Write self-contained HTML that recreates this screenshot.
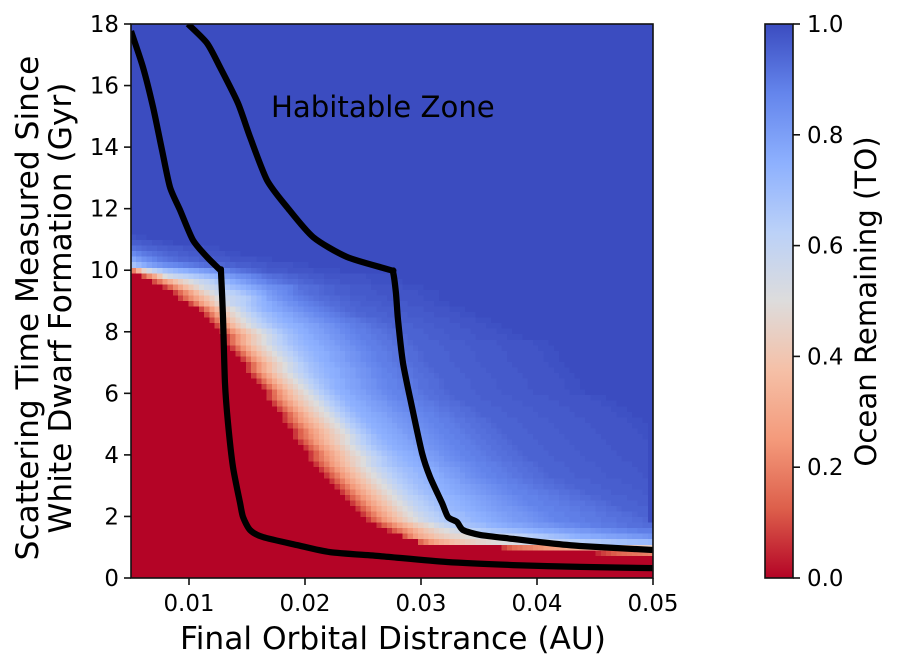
<!DOCTYPE html>
<html>
<head>
<meta charset="utf-8">
<title>Ocean Remaining Heatmap</title>
<style>
html,body{margin:0;padding:0;background:#fff;width:898px;height:669px;overflow:hidden}
svg{display:block}
text{font-family:"DejaVu Sans","Liberation Sans",sans-serif;fill:#000}
</style>
</head>
<body>
<svg id="chart" xmlns="http://www.w3.org/2000/svg" width="898" height="669" viewBox="0 0 898 669">
  <defs>
    <clipPath id="plot-clip"><rect x="131" y="24" width="522" height="554"/></clipPath>
    <linearGradient id="cbar-gradient" x1="0" y1="1" x2="0" y2="0"></linearGradient>
  </defs>
  <g id="cells" shape-rendering="crispEdges"></g>
  <g id="lines" clip-path="url(#plot-clip)"></g>
  <rect x="131" y="24" width="522" height="554" fill="none" stroke="#111" stroke-width="1.6"/>
  <g id="axis-ticks"></g>
  <text x="271" y="117" font-size="29.17">Habitable Zone</text>
  <text x="393" y="649" font-size="31.25" text-anchor="middle">Final Orbital Distrance (AU)</text>
  <text transform="translate(38,308) rotate(-90)" font-size="31.25" text-anchor="middle">Scattering Time Measured Since</text>
  <text transform="translate(71,308) rotate(-90)" font-size="31.25" text-anchor="middle">White Dwarf Formation (Gyr)</text>
  <rect x="765" y="24" width="28" height="554" fill="url(#cbar-gradient)" stroke="#111" stroke-width="1.6"/>
  <g id="cbar-ticks"></g>
  <text transform="translate(876,301.5) rotate(-90)" font-size="29.17" text-anchor="middle">Ocean Remaining (TO)</text>
</svg>
<script>
// Axis tick values
const xTicks = [0.01, 0.02, 0.03, 0.04, 0.05];
const xTickLabels = ["0.01", "0.02", "0.03", "0.04", "0.05"];
const yTicks = [0, 2, 4, 6, 8, 10, 12, 14, 16, 18];
const cbarTicks = [0, 0.2, 0.4, 0.6, 0.8, 1];
const cbarTickLabels = ["0.0", "0.2", "0.4", "0.6", "0.8", "1.0"];

// Inner boundary curve
const innerDistance = [0.005,0.00603,0.0069,0.00767,0.00836,0.00922,0.01034,0.01155,0.01267,0.01276,0.01293,0.0131,0.01336,0.01379,0.0144,0.01466,0.01526,0.01638,0.01931,0.02216,0.02647,0.03224,0.03793,0.0437,0.05];
const innerTime = [17.77,16.6,15.3,13.91,12.7,11.96,10.98,10.43,10.01,9.94,8.48,6.34,5.04,3.61,2.44,1.98,1.56,1.33,1.07,0.84,0.71,0.52,0.42,0.36,0.32];

// Outer boundary curve
const outerDistance = [0.00991,0.01155,0.01267,0.01422,0.01526,0.01672,0.01845,0.02069,0.02362,0.02733,0.02759,0.02784,0.02802,0.02845,0.02922,0.03009,0.03078,0.03181,0.03233,0.0331,0.03362,0.03509,0.03793,0.04086,0.0437,0.05];
const outerTime = [18,17.38,16.6,15.43,14.33,12.93,12.05,11.08,10.43,10.01,9.94,9.26,8.38,6.98,5.56,4.06,3.28,2.44,1.98,1.82,1.56,1.4,1.27,1.14,1.04,0.91];

// Heatmap extent and grid size
const gridCols = 100;
const xMin = 0.005, xMax = 0.05, yMin = 0, yMax = 18;

// Heatmap rows listed from the top (18 Gyr) down.
// Each row: [number of leading fully-depleted cells, then ocean remaining in percent...];
// cells beyond the listed ones hold 100 percent.
const heatmapRows = [
[0],[0],[0],[0],[0],[0],[0],[0],[0],[0],[0],[0],[0],[0],[0],[0],[0],[0],[0],
[0],[0],[0],[0],[0],[0],[0],[0],[0],[0],[0],[0],[0],[0],[0],[0],[0],[0],[0],
[0,98,99,99],
[0,96,96,97,97,98,98,99,99],
[0,92,93,94,95,95,96,96,97,97,97,98,98,98,98,99,99,99],
[0,86,88,90,91,92,93,94,95,95,96,96,97,97,97,98,98,98,98,99,99,99],
[0,78,81,84,86,88,90,91,92,93,94,94,95,95,96,96,96,97,97,97,98,98,98,98,98,99,99,99],
[0,68,72,76,79,81,83,85,86,87,88,89,90,91,92,93,93,94,94,95,95,96,96,96,97,97,97,98,98,98,98,98,99,99,99],
[0,20,34,46,54,60,64,68,70,72,74,75,77,78,80,81,83,84,86,88,90,91,92,93,94,95,96,97,97,97,97,98,98,98,98,98,99,99,99,99,99],
[2,12,22,30,40,50,55,58,60,62,64,66,68,70,72,74,77,80,82,84,85,86,88,89,91,92,93,93,94,95,95,96,96,97,97,97,98,98,98,98,98,98,98,98,99,99,99,99,99],
[4,10,17,25,32,38,43,47,51,55,58,60,63,66,69,73,76,78,80,82,84,86,87,89,90,91,92,93,93,94,95,95,96,96,97,97,97,98,98,98,98,98,98,99,99,99,99,99,99],
[6,7,14,22,29,36,41,46,51,55,57,60,63,67,70,72,74,76,78,80,82,84,85,86,87,88,90,92,92,93,93,94,95,95,96,96,96,97,97,97,97,98,98,98,98,98,98,99,99,99,99],
[8,8,15,22,29,36,42,47,52,56,59,61,63,65,68,71,73,76,78,81,83,85,86,88,90,91,92,93,93,94,95,95,96,96,96,97,97,97,97,97,98,98,98,98,98,98,98,98,99,99,99,99],
[9,8,15,22,28,34,39,44,49,54,57,59,61,63,65,69,72,75,79,81,83,85,86,88,89,90,91,92,93,93,94,94,95,95,96,96,96,97,97,97,97,98,98,98,98,98,98,98,99,99,99],
[11,9,18,26,33,39,45,50,55,59,61,63,66,69,72,74,76,78,80,82,84,85,87,88,89,90,91,92,93,93,94,94,95,95,96,96,96,96,97,97,97,97,97,98,98,98,98,98,99,99,99],
[13,9,18,27,35,41,46,50,55,60,64,67,70,73,75,77,78,80,81,83,84,86,87,88,89,90,91,92,93,94,94,95,95,95,95,96,96,96,96,97,97,97,97,97,98,98,98,98,98,99,99,99],
[14,9,18,27,35,41,46,50,55,59,63,66,69,71,73,75,77,78,80,81,83,84,86,87,88,89,90,91,92,93,94,94,95,95,95,95,96,96,96,96,97,97,97,97,97,98,98,98,98,98,99,99,99],
[15,9,18,27,35,41,46,50,55,59,63,66,69,71,73,75,76,78,79,80,82,83,84,86,87,88,89,90,90,91,92,93,93,94,95,95,95,95,96,96,96,96,97,97,97,97,97,98,98,98,98,98,99,99,99],
[16,9,18,27,35,41,46,50,55,59,62,65,68,70,72,74,75,76,78,79,80,82,83,84,86,87,88,89,90,90,91,92,93,93,94,95,95,95,95,96,96,96,96,97,97,97,97,97,98,98,98,98,98,99,99,99],
[17,8,16,24,31,37,42,46,50,55,59,63,66,69,71,73,75,76,78,79,80,82,83,84,86,87,88,89,89,90,91,91,92,93,93,94,95,95,95,95,96,96,96,96,97,97,97,97,97,98,98,98,98,98,99,99,99],
[18,8,16,24,31,37,42,46,50,55,59,63,66,69,71,73,75,76,78,79,80,82,83,84,86,87,88,89,89,90,91,91,92,93,93,94,95,95,95,95,96,96,96,96,97,97,97,97,97,98,98,98,98,98,98,99,99,99],
[18,8,16,24,31,37,42,46,50,55,59,62,65,68,70,72,74,75,76,78,79,80,82,83,84,86,87,88,89,89,90,91,91,92,93,93,94,95,95,95,95,95,96,96,96,96,96,97,97,97,97,97,97,98,98,98,98,98,98,98,99,99,99],
[19,8,16,24,31,37,42,46,50,55,59,62,65,68,70,72,74,75,76,78,79,80,82,83,84,86,87,88,89,89,90,91,91,92,93,93,94,95,95,95,95,95,96,96,96,96,96,97,97,97,97,97,97,98,98,98,98,98,98,98,99,99,99],
[20,8,16,24,31,37,42,46,50,55,59,62,65,68,70,72,74,75,76,78,79,80,82,83,84,86,87,88,89,89,90,91,91,92,93,93,94,95,95,95,95,95,96,96,96,96,96,97,97,97,97,97,97,98,98,98,98,98,98,98,99,99,99],
[21,8,16,24,31,37,42,46,50,55,59,63,66,69,71,73,75,76,78,79,80,82,83,84,86,87,88,89,89,90,91,91,92,93,93,94,95,95,95,95,95,96,96,96,96,96,97,97,97,97,97,97,98,98,98,98,98,98,98,99,99,99],
[22,8,16,24,31,37,42,46,50,55,59,63,66,69,71,73,75,76,78,79,80,82,83,84,86,87,88,89,89,90,91,91,92,93,93,94,95,95,95,95,95,96,96,96,96,96,97,97,97,97,97,97,98,98,98,98,98,98,98,99,99,99],
[22,8,16,24,31,37,42,46,50,55,59,62,65,68,70,72,74,75,76,78,79,80,82,83,84,86,87,88,89,89,90,91,91,92,93,93,94,95,95,95,95,95,96,96,96,96,96,97,97,97,97,97,97,98,98,98,98,98,98,98,99,99,99],
[23,8,16,24,31,37,42,46,50,55,59,63,66,69,71,73,75,76,78,79,80,82,83,84,86,87,88,88,89,90,90,91,92,92,93,93,94,95,95,95,95,95,96,96,96,96,96,97,97,97,97,97,97,98,98,98,98,98,98,98,99,99,99],
[24,8,16,24,31,37,42,46,50,55,59,63,66,69,71,73,75,76,78,79,80,82,83,84,86,87,88,88,89,90,90,91,92,92,93,93,94,95,95,95,95,95,96,96,96,96,96,97,97,97,97,97,97,98,98,98,98,98,98,98,99,99,99],
[25,8,16,24,31,37,42,46,50,55,60,64,67,70,73,75,76,78,79,80,82,83,84,86,87,88,88,89,90,90,91,92,92,93,93,94,95,95,95,95,95,96,96,96,96,96,97,97,97,97,97,97,98,98,98,98,98,98,98,99,99,99],
[26,8,16,24,31,37,42,46,50,55,60,64,67,70,73,75,76,78,79,80,82,83,84,86,87,88,88,89,90,90,91,92,92,93,93,94,95,95,95,95,95,96,96,96,96,96,97,97,97,97,97,97,98,98,98,98,98,98,98,99,99,99],
[26,8,15,22,28,34,39,43,47,50,55,60,64,67,70,73,75,76,78,79,80,82,83,84,86,87,88,88,89,90,90,91,92,92,93,93,94,95,95,95,95,95,96,96,96,96,96,96,97,97,97,97,97,97,97,98,98,98,98,98,98,98,98,99,99,99],
[27,8,15,22,28,34,39,43,47,50,55,60,64,67,70,73,75,76,77,79,80,81,82,84,85,86,87,88,88,89,90,90,91,92,92,93,93,94,95,95,95,95,95,96,96,96,96,96,96,97,97,97,97,97,97,97,98,98,98,98,98,98,98,98,99,99,99],
[28,8,15,22,28,34,39,43,47,50,55,60,64,67,70,73,75,76,77,79,80,81,82,84,85,86,87,88,88,89,89,90,91,91,92,92,93,93,94,95,95,95,95,95,96,96,96,96,96,96,97,97,97,97,97,97,97,98,98,98,98,98,98,98,98,99,99,99],
[29,8,15,22,28,34,39,43,47,50,55,60,64,67,70,73,75,76,77,78,79,81,82,83,84,85,86,87,88,88,89,90,90,91,92,92,93,93,94,95,95,95,95,95,96,96,96,96,96,96,97,97,97,97,97,97,97,98,98,98,98,98,98,98,98,99,99,99],
[29,7,13,19,25,30,35,39,43,47,50,55,60,64,67,70,73,75,76,77,78,79,81,82,83,84,85,86,87,88,88,89,89,90,91,91,92,92,93,93,94,95,95,95,95,95,96,96,96,96,96,96,97,97,97,97,97,97,97,98,98,98,98,98,98,98,98,99,99,99],
[30,7,13,19,25,30,35,39,43,47,50,55,60,64,67,70,73,75,76,77,78,79,81,82,83,84,85,86,87,88,88,89,89,90,91,91,92,92,93,93,94,95,95,95,95,95,96,96,96,96,96,96,97,97,97,97,97,97,97,98,98,98,98,98,98,98,98,99,99,99],
[31,7,13,19,25,30,35,39,43,47,50,55,60,64,67,70,73,75,76,77,78,79,81,82,83,84,85,86,87,88,88,89,89,90,91,91,92,92,93,93,94,95,95,95,95,95,96,96,96,96,96,96,97,97,97,97,97,97,97,98,98,98,98,98,98,98,98,99,99],
[31,7,13,18,23,28,33,37,41,44,47,50,55,60,64,67,70,73,75,76,77,78,79,81,82,83,84,85,86,87,88,88,89,89,90,91,91,92,92,93,93,94,95,95,95,95,95,96,96,96,96,96,96,97,97,97,97,97,97,97,98,98,98,98,98,98,98,98,99],
[32,7,13,19,25,30,35,39,43,47,50,55,59,63,66,69,71,73,75,76,77,78,79,81,82,83,84,85,86,87,88,88,89,89,90,91,91,92,92,93,93,94,95,95,95,95,95,96,96,96,96,96,96,97,97,97,97,97,97,97,98,98,98,98,98,98,98,98],
[33,7,13,19,25,30,35,39,43,47,50,55,59,63,66,69,71,73,75,76,77,78,79,81,82,83,84,85,86,87,88,88,89,89,90,91,91,92,92,93,93,94,95,95,95,95,95,96,96,96,96,96,96,97,97,97,97,97,97,97,98,98,98,98,98,98,98],
[34,7,13,19,25,30,35,39,43,47,50,55,59,62,65,68,70,72,74,75,76,77,79,80,81,82,84,85,86,87,88,88,89,89,90,91,91,92,92,93,93,94,95,95,95,95,95,96,96,96,96,96,96,97,97,97,97,97,97,97,98,98,98,98,98,98],
[34,7,13,18,23,28,33,37,41,44,47,50,55,59,62,65,68,70,72,74,75,76,77,79,80,81,82,84,85,86,87,88,88,89,89,90,91,91,92,92,93,93,94,95,95,95,95,95,96,96,96,96,96,96,97,97,97,97,97,97,97,98,98,98,98,98],
[35,7,13,19,25,30,35,39,43,47,50,55,59,62,65,67,69,71,72,74,75,76,77,78,79,81,82,83,84,85,86,87,88,88,89,89,90,91,91,92,92,93,93,94,95,95,95,95,95,96,96,96,96,96,96,97,97,97,97,97,97,97,98,98,98],
[36,7,13,19,25,30,35,39,43,47,50,54,58,61,64,66,68,70,71,73,74,75,76,77,79,80,81,82,84,85,86,87,88,88,89,89,90,91,91,92,92,93,93,94,95,95,95,95,95,96,96,96,96,96,96,97,97,97,97,97,97,97,98,98],
[37,7,13,19,25,30,35,39,43,47,50,54,58,61,64,66,68,70,71,73,74,75,76,77,79,80,81,82,84,85,86,87,88,88,89,89,90,91,91,92,92,93,93,94,95,95,95,95,95,96,96,96,96,96,96,97,97,97,97,97,97,97,98],
[38,7,13,19,25,30,35,39,43,47,50,54,58,61,64,66,68,70,71,73,74,75,76,77,78,79,81,82,83,84,85,86,87,88,88,89,89,90,91,91,92,92,93,93,94,94,95,95,95,95,95,96,96,96,96,96,96,97,97,97,97,97],
[39,7,13,19,25,30,35,39,43,47,50,54,58,61,64,66,68,70,71,73,74,75,76,77,78,79,80,81,82,83,84,85,86,87,88,88,89,89,90,91,91,92,92,93,93,94,94,95,95,95,95,95,96,96,96,96,96,96,97,97,97],
[40,7,13,19,25,30,35,39,43,47,50,54,58,61,64,66,68,70,71,73,74,75,76,77,78,79,80,81,82,83,84,85,86,87,88,88,88,89,89,90,90,91,91,92,92,93,93,94,95,95,95,95,95,96,96,96,96,96,96,97],
[41,7,13,19,25,30,35,39,43,47,50,54,58,61,63,65,67,69,70,72,73,74,75,76,77,78,79,80,81,82,83,84,85,86,87,88,88,88,89,89,90,90,91,91,92,92,93,93,94,94,95,95,95,95,95,96,96,96,96],
[42,7,13,19,25,30,35,39,43,47,50,54,58,61,63,65,67,69,70,72,73,74,75,76,77,78,79,80,81,82,83,84,85,86,87,88,88,88,89,89,89,90,90,91,91,91,92,92,93,93,94,95,95,95,95,95,96,96],
[43,7,13,19,25,30,35,39,43,47,50,54,58,61,63,65,67,69,70,72,73,74,75,76,77,78,79,80,81,82,82,83,84,85,86,87,88,88,88,89,89,89,90,90,91,91,91,92,92,93,93,94,95,95,95,95,95],
[44,7,13,19,25,30,35,39,43,47,50,54,57,60,62,64,66,68,69,70,71,73,74,75,76,77,78,79,80,81,82,82,83,84,85,86,87,88,88,88,89,89,89,90,90,90,91,91,92,92,92,93,93,94,95,95],
[45,7,13,19,25,30,35,39,43,47,50,54,57,60,62,64,66,68,69,70,71,73,74,75,76,77,78,79,80,81,82,82,83,84,85,86,87,88,88,88,89,89,89,90,90,90,91,91,91,92,92,92,93,93,94],
[47,7,13,18,23,28,33,37,41,44,47,50,54,57,60,62,64,66,68,69,70,71,73,74,75,76,77,78,78,79,80,81,82,82,83,84,85,86,86,87,88,88,89,89,90,90,90,91,91,92,92,92,93,93],
[49,6,12,17,22,27,32,36,40,43,46,48,50,53,55,57,59,61,63,65,66,67,68,69,70,71,72,73,74,75,76,77,77,78,79,80,80,81,82,82,83,84,85,85,86,87,87,88,88,89,89,89,90,90],
[52,12,20,26,31,34,37,40,42,44,46,47,48,49,50,52,54,55,56,57,58,59,60,61,62,64,65,66,67,69,70,71,72,74,75,76,76,77,77,78,79,79,80,80,81,82,82,83,84],
[55,14,20,25,29,32,34,37,39,41,43,44,46,47,48,49,50,51,52,52,53,54,55,56,57,58,59,60,61,62,63,63,64,65,65,66,67,67,68,69,69,70,70,71,71,72],
[71,8,12,15,17,19,20,22,23,25,26,27,28,29,30,31,32,33,34,35,36,37,38,39,40,41,42,43,44,45],
[89,5,8,10,12,14,15,16,17,18,19,20],
[100],[100],[100],[100]
];

// Colormap stops for ocean remaining (red when empty, blue when full)
const cmapStops = [0, 0.125, 0.25, 0.375, 0.5, 0.625, 0.75, 0.875, 1];
const cmapColors = ["#b40426", "#dd5f4b", "#f49a7b", "#f5c0a7", "#dddcdc", "#bbd1f8", "#8db0fe", "#6485ec", "#3b4cc0"];

const SVGNS = "http://www.w3.org/2000/svg";
const plotLeft = 131, plotRight = 653, plotTop = 24, plotBottom = 578;
function xScale(v) { return plotLeft + (v - xMin) / (xMax - xMin) * (plotRight - plotLeft); }
function yScale(v) { return plotBottom - (v - yMin) / (yMax - yMin) * (plotBottom - plotTop); }
function cbarScale(v) { return plotBottom - v * (plotBottom - plotTop); }
function hexRgb(h) { return [parseInt(h.slice(1, 3), 16), parseInt(h.slice(3, 5), 16), parseInt(h.slice(5, 7), 16)]; }
function colorFor(v) {
  const t = Math.max(0, Math.min(1, v));
  let i = 0;
  while (i < cmapStops.length - 2 && t > cmapStops[i + 1]) i++;
  const f = (t - cmapStops[i]) / (cmapStops[i + 1] - cmapStops[i]);
  const a = hexRgb(cmapColors[i]), b = hexRgb(cmapColors[i + 1]);
  return "rgb(" + a.map(function (c, k) { return Math.round(c + (b[k] - c) * f); }).join(",") + ")";
}
function cellValue(row, col) {
  const start = row[0];
  if (col < start) return 0;
  const k = col - start + 1;
  return k < row.length ? row[k] / 100 : 1;
}

// Heatmap cells
const cellsGroup = document.getElementById("cells");
const rowCount = heatmapRows.length;
const frag = document.createDocumentFragment();
for (let r = 0; r < rowCount; r++) {
  const t1 = yMax - (yMax - yMin) * r / rowCount;
  const t0 = yMax - (yMax - yMin) * (r + 1) / rowCount;
  for (let c = 0; c < gridCols; c++) {
    const d0 = xMin + (xMax - xMin) * c / gridCols;
    const d1 = xMin + (xMax - xMin) * (c + 1) / gridCols;
    const cell = document.createElementNS(SVGNS, "rect");
    cell.setAttribute("x", xScale(d0));
    cell.setAttribute("y", yScale(t1));
    cell.setAttribute("width", xScale(d1) - xScale(d0) + 0.5);
    cell.setAttribute("height", yScale(t0) - yScale(t1) + 0.5);
    cell.setAttribute("fill", colorFor(cellValue(heatmapRows[r], c)));
    
    
    frag.appendChild(cell);
  }
}
cellsGroup.appendChild(frag);

// Boundary curves: smooth path through the read points
function linePath(xs, ys) {
  const p = xs.map(function (x, i) { return [xScale(x), yScale(ys[i])]; });
  let d = "M" + p[0][0].toFixed(2) + " " + p[0][1].toFixed(2);
  for (let i = 0; i < p.length - 1; i++) {
    const a = p[Math.max(0, i - 1)], b = p[i], c = p[i + 1], e = p[Math.min(p.length - 1, i + 2)];
    const k = 0.12;
    d += " C" + (b[0] + (c[0] - a[0]) * k).toFixed(2) + " " + (b[1] + (c[1] - a[1]) * k).toFixed(2) +
         " " + (c[0] - (e[0] - b[0]) * k).toFixed(2) + " " + (c[1] - (e[1] - b[1]) * k).toFixed(2) +
         " " + c[0].toFixed(2) + " " + c[1].toFixed(2);
  }
  return d;
}
const linesGroup = document.getElementById("lines");
const innerLine = document.createElementNS(SVGNS, "path");
innerLine.setAttribute("d", linePath(innerDistance, innerTime));
innerLine.setAttribute("fill", "none");
innerLine.setAttribute("stroke", "#000");
innerLine.setAttribute("stroke-width", "6.25");
innerLine.setAttribute("stroke-linejoin", "round");


linesGroup.appendChild(innerLine);
const outerLine = document.createElementNS(SVGNS, "path");
outerLine.setAttribute("d", linePath(outerDistance, outerTime));
outerLine.setAttribute("fill", "none");
outerLine.setAttribute("stroke", "#000");
outerLine.setAttribute("stroke-width", "6.25");
outerLine.setAttribute("stroke-linejoin", "round");


linesGroup.appendChild(outerLine);

// Axis ticks and labels
const ticksGroup = document.getElementById("axis-ticks");
function addTick(group, x1, y1, x2, y2, name) {
  const tick = document.createElementNS(SVGNS, "line");
  tick.setAttribute("x1", x1);
  tick.setAttribute("y1", y1);
  tick.setAttribute("x2", x2);
  tick.setAttribute("y2", y2);
  tick.setAttribute("stroke", "#111");
  tick.setAttribute("stroke-width", "1.6");
  
  
  group.appendChild(tick);
}
function addLabel(group, x, y, anchor, str, name) {
  const label = document.createElementNS(SVGNS, "text");
  label.setAttribute("x", x);
  label.setAttribute("y", y);
  label.setAttribute("text-anchor", anchor);
  label.setAttribute("font-size", "22.92");
  label.textContent = str;
  
  
  group.appendChild(label);
}
xTicks.forEach(function (v, i) {
  const px = xScale(v);
  addTick(ticksGroup, px, plotBottom, px, plotBottom + 7, "x-axis-tick");
  addLabel(ticksGroup, px, plotBottom + 33, "middle", xTickLabels[i], "x-axis-tick-label");
});
yTicks.forEach(function (v) {
  const py = yScale(v);
  addTick(ticksGroup, plotLeft, py, plotLeft - 7, py, "y-axis-tick");
  addLabel(ticksGroup, plotLeft - 12, py + 8, "end", String(v), "y-axis-tick-label");
});

// Colorbar gradient and ticks
const gradient = document.getElementById("cbar-gradient");
cmapStops.forEach(function (s, i) {
  const stop = document.createElementNS(SVGNS, "stop");
  stop.setAttribute("offset", s);
  stop.setAttribute("stop-color", cmapColors[i]);
  gradient.appendChild(stop);
});
const cbarGroup = document.getElementById("cbar-ticks");
cbarTicks.forEach(function (v, i) {
  const py = cbarScale(v);
  addTick(cbarGroup, 793, py, 800, py, "colorbar-tick");
  addLabel(cbarGroup, 807, py + 8, "start", cbarTickLabels[i], "colorbar-tick-label");
});
</script>
</body>
</html>
